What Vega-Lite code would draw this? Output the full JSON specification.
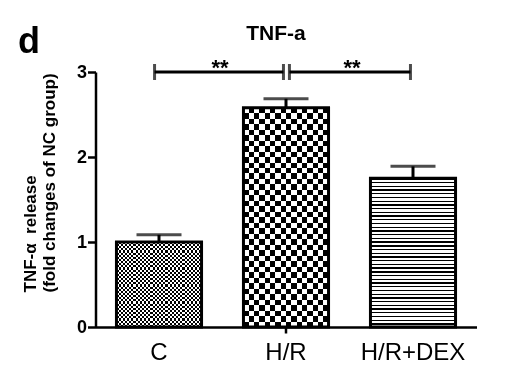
{
"$schema":"https://vega.github.io/schema/vega-lite/v6.json",
"padding":{"left":18,"top":23,"right":5,"bottom":5},
"bounds":"flush",
"spacing":76.5,
"config":{"font":"Liberation Sans","view":{"stroke":null},"axis":{"domainColor":"black","tickColor":"black","labelColor":"black","titleColor":"black","grid":false},"title":{"color":"black"}},
"hconcat":[
{"width":1,"height":1,"title":{"text":"d","fontSize":36,"fontWeight":"bold","anchor":"start","frame":"group","offset":-17,"baseline":"alphabetic"},"data":{"values":[]},"mark":{"type":"point","opacity":0}},
{"width":381,"height":255,
"title":{"text":"TNF-a","fontSize":21,"fontWeight":"bold","anchor":"middle","frame":"group","dx":-10,"offset":-4,"baseline":"alphabetic"},
"layer":[
{"data":{"values":[{"group":"C","mean":1.0,"upper":1.085},{"group":"H/R","mean":2.58,"upper":2.685},{"group":"H/R+DEX","mean":1.75,"upper":1.89}]},
"encoding":{
"x":{"field":"group","type":"nominal","scale":{"domain":["C","H/R","H/R+DEX"],"paddingInner":0.33,"paddingOuter":0.165},"axis":{"title":null,"labelAngle":0,"labelFontSize":24,"labelFontWeight":"normal","domainWidth":2.5,"tickSize":6,"tickWidth":2.5,"labelPadding":7,"tickColor":{"condition":{"test":"datum.value==='H/R'","value":"black"},"value":"transparent"}}},
"y":{"field":"mean","type":"quantitative","scale":{"domain":[0,3],"nice":false},"axis":{"title":["TNF-α\u00a0 release","(fold changes of NC group)"],"titleFontSize":17,"titleFontWeight":"bold","titleLineHeight":19,"titleAlign":"left","titleBaseline":"alphabetic","titleAngle":-90,"titleX":-60,"titleY":220,"values":[0,1,2,3],"format":"d","labelFontSize":18,"labelFontWeight":"bold","labelPadding":1,"tickSize":8,"tickWidth":2.5,"domainWidth":2.5}}},
"layer":[
{"transform":[{"filter":"datum.group==='C'"}],"mark":{"type":"bar","fill":{"gradient":"linear","x1":0,"y1":0,"x2":0,"y2":1,"stops":[{"offset":0,"color":"#000"},{"offset":0.025,"color":"#000"},{"offset":0.025,"color":"#fff"},{"offset":0.05,"color":"#fff"},{"offset":0.05,"color":"#000"},{"offset":0.075,"color":"#000"},{"offset":0.075,"color":"#fff"},{"offset":0.1,"color":"#fff"},{"offset":0.1,"color":"#000"},{"offset":0.125,"color":"#000"},{"offset":0.125,"color":"#fff"},{"offset":0.15,"color":"#fff"},{"offset":0.15,"color":"#000"},{"offset":0.175,"color":"#000"},{"offset":0.175,"color":"#fff"},{"offset":0.2,"color":"#fff"},{"offset":0.2,"color":"#000"},{"offset":0.225,"color":"#000"},{"offset":0.225,"color":"#fff"},{"offset":0.25,"color":"#fff"},{"offset":0.25,"color":"#000"},{"offset":0.275,"color":"#000"},{"offset":0.275,"color":"#fff"},{"offset":0.3,"color":"#fff"},{"offset":0.3,"color":"#000"},{"offset":0.325,"color":"#000"},{"offset":0.325,"color":"#fff"},{"offset":0.35,"color":"#fff"},{"offset":0.35,"color":"#000"},{"offset":0.375,"color":"#000"},{"offset":0.375,"color":"#fff"},{"offset":0.4,"color":"#fff"},{"offset":0.4,"color":"#000"},{"offset":0.425,"color":"#000"},{"offset":0.425,"color":"#fff"},{"offset":0.45,"color":"#fff"},{"offset":0.45,"color":"#000"},{"offset":0.475,"color":"#000"},{"offset":0.475,"color":"#fff"},{"offset":0.5,"color":"#fff"},{"offset":0.5,"color":"#000"},{"offset":0.525,"color":"#000"},{"offset":0.525,"color":"#fff"},{"offset":0.55,"color":"#fff"},{"offset":0.55,"color":"#000"},{"offset":0.575,"color":"#000"},{"offset":0.575,"color":"#fff"},{"offset":0.6,"color":"#fff"},{"offset":0.6,"color":"#000"},{"offset":0.625,"color":"#000"},{"offset":0.625,"color":"#fff"},{"offset":0.65,"color":"#fff"},{"offset":0.65,"color":"#000"},{"offset":0.675,"color":"#000"},{"offset":0.675,"color":"#fff"},{"offset":0.7,"color":"#fff"},{"offset":0.7,"color":"#000"},{"offset":0.725,"color":"#000"},{"offset":0.725,"color":"#fff"},{"offset":0.75,"color":"#fff"},{"offset":0.75,"color":"#000"},{"offset":0.775,"color":"#000"},{"offset":0.775,"color":"#fff"},{"offset":0.8,"color":"#fff"},{"offset":0.8,"color":"#000"},{"offset":0.825,"color":"#000"},{"offset":0.825,"color":"#fff"},{"offset":0.85,"color":"#fff"},{"offset":0.85,"color":"#000"},{"offset":0.875,"color":"#000"},{"offset":0.875,"color":"#fff"},{"offset":0.9,"color":"#fff"},{"offset":0.9,"color":"#000"},{"offset":0.925,"color":"#000"},{"offset":0.925,"color":"#fff"},{"offset":0.95,"color":"#fff"},{"offset":0.95,"color":"#000"},{"offset":0.975,"color":"#000"},{"offset":0.975,"color":"#fff"},{"offset":1,"color":"#fff"}]}}},
{"transform":[{"filter":"datum.group==='C'"}],"mark":{"type":"bar","blend":"difference","fill":{"gradient":"linear","x1":0,"y1":0,"x2":1,"y2":0,"stops":[{"offset":0,"color":"#fff"},{"offset":0.025,"color":"#fff"},{"offset":0.025,"color":"rgba(255,255,255,0)"},{"offset":0.05,"color":"rgba(255,255,255,0)"},{"offset":0.05,"color":"#fff"},{"offset":0.075,"color":"#fff"},{"offset":0.075,"color":"rgba(255,255,255,0)"},{"offset":0.1,"color":"rgba(255,255,255,0)"},{"offset":0.1,"color":"#fff"},{"offset":0.125,"color":"#fff"},{"offset":0.125,"color":"rgba(255,255,255,0)"},{"offset":0.15,"color":"rgba(255,255,255,0)"},{"offset":0.15,"color":"#fff"},{"offset":0.175,"color":"#fff"},{"offset":0.175,"color":"rgba(255,255,255,0)"},{"offset":0.2,"color":"rgba(255,255,255,0)"},{"offset":0.2,"color":"#fff"},{"offset":0.225,"color":"#fff"},{"offset":0.225,"color":"rgba(255,255,255,0)"},{"offset":0.25,"color":"rgba(255,255,255,0)"},{"offset":0.25,"color":"#fff"},{"offset":0.275,"color":"#fff"},{"offset":0.275,"color":"rgba(255,255,255,0)"},{"offset":0.3,"color":"rgba(255,255,255,0)"},{"offset":0.3,"color":"#fff"},{"offset":0.325,"color":"#fff"},{"offset":0.325,"color":"rgba(255,255,255,0)"},{"offset":0.35,"color":"rgba(255,255,255,0)"},{"offset":0.35,"color":"#fff"},{"offset":0.375,"color":"#fff"},{"offset":0.375,"color":"rgba(255,255,255,0)"},{"offset":0.4,"color":"rgba(255,255,255,0)"},{"offset":0.4,"color":"#fff"},{"offset":0.425,"color":"#fff"},{"offset":0.425,"color":"rgba(255,255,255,0)"},{"offset":0.45,"color":"rgba(255,255,255,0)"},{"offset":0.45,"color":"#fff"},{"offset":0.475,"color":"#fff"},{"offset":0.475,"color":"rgba(255,255,255,0)"},{"offset":0.5,"color":"rgba(255,255,255,0)"},{"offset":0.5,"color":"#fff"},{"offset":0.525,"color":"#fff"},{"offset":0.525,"color":"rgba(255,255,255,0)"},{"offset":0.55,"color":"rgba(255,255,255,0)"},{"offset":0.55,"color":"#fff"},{"offset":0.575,"color":"#fff"},{"offset":0.575,"color":"rgba(255,255,255,0)"},{"offset":0.6,"color":"rgba(255,255,255,0)"},{"offset":0.6,"color":"#fff"},{"offset":0.625,"color":"#fff"},{"offset":0.625,"color":"rgba(255,255,255,0)"},{"offset":0.65,"color":"rgba(255,255,255,0)"},{"offset":0.65,"color":"#fff"},{"offset":0.675,"color":"#fff"},{"offset":0.675,"color":"rgba(255,255,255,0)"},{"offset":0.7,"color":"rgba(255,255,255,0)"},{"offset":0.7,"color":"#fff"},{"offset":0.725,"color":"#fff"},{"offset":0.725,"color":"rgba(255,255,255,0)"},{"offset":0.75,"color":"rgba(255,255,255,0)"},{"offset":0.75,"color":"#fff"},{"offset":0.775,"color":"#fff"},{"offset":0.775,"color":"rgba(255,255,255,0)"},{"offset":0.8,"color":"rgba(255,255,255,0)"},{"offset":0.8,"color":"#fff"},{"offset":0.825,"color":"#fff"},{"offset":0.825,"color":"rgba(255,255,255,0)"},{"offset":0.85,"color":"rgba(255,255,255,0)"},{"offset":0.85,"color":"#fff"},{"offset":0.875,"color":"#fff"},{"offset":0.875,"color":"rgba(255,255,255,0)"},{"offset":0.9,"color":"rgba(255,255,255,0)"},{"offset":0.9,"color":"#fff"},{"offset":0.925,"color":"#fff"},{"offset":0.925,"color":"rgba(255,255,255,0)"},{"offset":0.95,"color":"rgba(255,255,255,0)"},{"offset":0.95,"color":"#fff"},{"offset":0.975,"color":"#fff"},{"offset":0.975,"color":"rgba(255,255,255,0)"},{"offset":1,"color":"rgba(255,255,255,0)"}]}}},
{"transform":[{"filter":"datum.group==='H/R'"}],"mark":{"type":"bar","fill":{"gradient":"linear","x1":0,"y1":0,"x2":0,"y2":1,"stops":[{"offset":0,"color":"#000"},{"offset":0.025,"color":"#000"},{"offset":0.025,"color":"#fff"},{"offset":0.05,"color":"#fff"},{"offset":0.05,"color":"#000"},{"offset":0.075,"color":"#000"},{"offset":0.075,"color":"#fff"},{"offset":0.1,"color":"#fff"},{"offset":0.1,"color":"#000"},{"offset":0.125,"color":"#000"},{"offset":0.125,"color":"#fff"},{"offset":0.15,"color":"#fff"},{"offset":0.15,"color":"#000"},{"offset":0.175,"color":"#000"},{"offset":0.175,"color":"#fff"},{"offset":0.2,"color":"#fff"},{"offset":0.2,"color":"#000"},{"offset":0.225,"color":"#000"},{"offset":0.225,"color":"#fff"},{"offset":0.25,"color":"#fff"},{"offset":0.25,"color":"#000"},{"offset":0.275,"color":"#000"},{"offset":0.275,"color":"#fff"},{"offset":0.3,"color":"#fff"},{"offset":0.3,"color":"#000"},{"offset":0.325,"color":"#000"},{"offset":0.325,"color":"#fff"},{"offset":0.35,"color":"#fff"},{"offset":0.35,"color":"#000"},{"offset":0.375,"color":"#000"},{"offset":0.375,"color":"#fff"},{"offset":0.4,"color":"#fff"},{"offset":0.4,"color":"#000"},{"offset":0.425,"color":"#000"},{"offset":0.425,"color":"#fff"},{"offset":0.45,"color":"#fff"},{"offset":0.45,"color":"#000"},{"offset":0.475,"color":"#000"},{"offset":0.475,"color":"#fff"},{"offset":0.5,"color":"#fff"},{"offset":0.5,"color":"#000"},{"offset":0.525,"color":"#000"},{"offset":0.525,"color":"#fff"},{"offset":0.55,"color":"#fff"},{"offset":0.55,"color":"#000"},{"offset":0.575,"color":"#000"},{"offset":0.575,"color":"#fff"},{"offset":0.6,"color":"#fff"},{"offset":0.6,"color":"#000"},{"offset":0.625,"color":"#000"},{"offset":0.625,"color":"#fff"},{"offset":0.65,"color":"#fff"},{"offset":0.65,"color":"#000"},{"offset":0.675,"color":"#000"},{"offset":0.675,"color":"#fff"},{"offset":0.7,"color":"#fff"},{"offset":0.7,"color":"#000"},{"offset":0.725,"color":"#000"},{"offset":0.725,"color":"#fff"},{"offset":0.75,"color":"#fff"},{"offset":0.75,"color":"#000"},{"offset":0.775,"color":"#000"},{"offset":0.775,"color":"#fff"},{"offset":0.8,"color":"#fff"},{"offset":0.8,"color":"#000"},{"offset":0.825,"color":"#000"},{"offset":0.825,"color":"#fff"},{"offset":0.85,"color":"#fff"},{"offset":0.85,"color":"#000"},{"offset":0.875,"color":"#000"},{"offset":0.875,"color":"#fff"},{"offset":0.9,"color":"#fff"},{"offset":0.9,"color":"#000"},{"offset":0.925,"color":"#000"},{"offset":0.925,"color":"#fff"},{"offset":0.95,"color":"#fff"},{"offset":0.95,"color":"#000"},{"offset":0.975,"color":"#000"},{"offset":0.975,"color":"#fff"},{"offset":1,"color":"#fff"}]}}},
{"transform":[{"filter":"datum.group==='H/R'"}],"mark":{"type":"bar","blend":"difference","fill":{"gradient":"linear","x1":0,"y1":0,"x2":1,"y2":0,"stops":[{"offset":0,"color":"#fff"},{"offset":0.0625,"color":"#fff"},{"offset":0.0625,"color":"rgba(255,255,255,0)"},{"offset":0.125,"color":"rgba(255,255,255,0)"},{"offset":0.125,"color":"#fff"},{"offset":0.1875,"color":"#fff"},{"offset":0.1875,"color":"rgba(255,255,255,0)"},{"offset":0.25,"color":"rgba(255,255,255,0)"},{"offset":0.25,"color":"#fff"},{"offset":0.3125,"color":"#fff"},{"offset":0.3125,"color":"rgba(255,255,255,0)"},{"offset":0.375,"color":"rgba(255,255,255,0)"},{"offset":0.375,"color":"#fff"},{"offset":0.4375,"color":"#fff"},{"offset":0.4375,"color":"rgba(255,255,255,0)"},{"offset":0.5,"color":"rgba(255,255,255,0)"},{"offset":0.5,"color":"#fff"},{"offset":0.5625,"color":"#fff"},{"offset":0.5625,"color":"rgba(255,255,255,0)"},{"offset":0.625,"color":"rgba(255,255,255,0)"},{"offset":0.625,"color":"#fff"},{"offset":0.6875,"color":"#fff"},{"offset":0.6875,"color":"rgba(255,255,255,0)"},{"offset":0.75,"color":"rgba(255,255,255,0)"},{"offset":0.75,"color":"#fff"},{"offset":0.8125,"color":"#fff"},{"offset":0.8125,"color":"rgba(255,255,255,0)"},{"offset":0.875,"color":"rgba(255,255,255,0)"},{"offset":0.875,"color":"#fff"},{"offset":0.9375,"color":"#fff"},{"offset":0.9375,"color":"rgba(255,255,255,0)"},{"offset":1,"color":"rgba(255,255,255,0)"}]}}},
{"transform":[{"filter":"datum.group==='H/R+DEX'"}],"mark":{"type":"bar","fill":{"gradient":"linear","x1":0,"y1":0,"x2":0,"y2":1,"stops":[{"offset":0,"color":"#000"},{"offset":0.009,"color":"#000"},{"offset":0.009,"color":"#fff"},{"offset":0.025,"color":"#fff"},{"offset":0.025,"color":"#000"},{"offset":0.034,"color":"#000"},{"offset":0.034,"color":"#fff"},{"offset":0.05,"color":"#fff"},{"offset":0.05,"color":"#000"},{"offset":0.059,"color":"#000"},{"offset":0.059,"color":"#fff"},{"offset":0.075,"color":"#fff"},{"offset":0.075,"color":"#000"},{"offset":0.084,"color":"#000"},{"offset":0.084,"color":"#fff"},{"offset":0.1,"color":"#fff"},{"offset":0.1,"color":"#000"},{"offset":0.109,"color":"#000"},{"offset":0.109,"color":"#fff"},{"offset":0.125,"color":"#fff"},{"offset":0.125,"color":"#000"},{"offset":0.134,"color":"#000"},{"offset":0.134,"color":"#fff"},{"offset":0.15,"color":"#fff"},{"offset":0.15,"color":"#000"},{"offset":0.159,"color":"#000"},{"offset":0.159,"color":"#fff"},{"offset":0.175,"color":"#fff"},{"offset":0.175,"color":"#000"},{"offset":0.184,"color":"#000"},{"offset":0.184,"color":"#fff"},{"offset":0.2,"color":"#fff"},{"offset":0.2,"color":"#000"},{"offset":0.209,"color":"#000"},{"offset":0.209,"color":"#fff"},{"offset":0.225,"color":"#fff"},{"offset":0.225,"color":"#000"},{"offset":0.234,"color":"#000"},{"offset":0.234,"color":"#fff"},{"offset":0.25,"color":"#fff"},{"offset":0.25,"color":"#000"},{"offset":0.259,"color":"#000"},{"offset":0.259,"color":"#fff"},{"offset":0.275,"color":"#fff"},{"offset":0.275,"color":"#000"},{"offset":0.284,"color":"#000"},{"offset":0.284,"color":"#fff"},{"offset":0.3,"color":"#fff"},{"offset":0.3,"color":"#000"},{"offset":0.309,"color":"#000"},{"offset":0.309,"color":"#fff"},{"offset":0.325,"color":"#fff"},{"offset":0.325,"color":"#000"},{"offset":0.334,"color":"#000"},{"offset":0.334,"color":"#fff"},{"offset":0.35,"color":"#fff"},{"offset":0.35,"color":"#000"},{"offset":0.359,"color":"#000"},{"offset":0.359,"color":"#fff"},{"offset":0.375,"color":"#fff"},{"offset":0.375,"color":"#000"},{"offset":0.384,"color":"#000"},{"offset":0.384,"color":"#fff"},{"offset":0.4,"color":"#fff"},{"offset":0.4,"color":"#000"},{"offset":0.409,"color":"#000"},{"offset":0.409,"color":"#fff"},{"offset":0.425,"color":"#fff"},{"offset":0.425,"color":"#000"},{"offset":0.434,"color":"#000"},{"offset":0.434,"color":"#fff"},{"offset":0.45,"color":"#fff"},{"offset":0.45,"color":"#000"},{"offset":0.459,"color":"#000"},{"offset":0.459,"color":"#fff"},{"offset":0.475,"color":"#fff"},{"offset":0.475,"color":"#000"},{"offset":0.484,"color":"#000"},{"offset":0.484,"color":"#fff"},{"offset":0.5,"color":"#fff"},{"offset":0.5,"color":"#000"},{"offset":0.509,"color":"#000"},{"offset":0.509,"color":"#fff"},{"offset":0.525,"color":"#fff"},{"offset":0.525,"color":"#000"},{"offset":0.534,"color":"#000"},{"offset":0.534,"color":"#fff"},{"offset":0.55,"color":"#fff"},{"offset":0.55,"color":"#000"},{"offset":0.559,"color":"#000"},{"offset":0.559,"color":"#fff"},{"offset":0.575,"color":"#fff"},{"offset":0.575,"color":"#000"},{"offset":0.584,"color":"#000"},{"offset":0.584,"color":"#fff"},{"offset":0.6,"color":"#fff"},{"offset":0.6,"color":"#000"},{"offset":0.609,"color":"#000"},{"offset":0.609,"color":"#fff"},{"offset":0.625,"color":"#fff"},{"offset":0.625,"color":"#000"},{"offset":0.634,"color":"#000"},{"offset":0.634,"color":"#fff"},{"offset":0.65,"color":"#fff"},{"offset":0.65,"color":"#000"},{"offset":0.659,"color":"#000"},{"offset":0.659,"color":"#fff"},{"offset":0.675,"color":"#fff"},{"offset":0.675,"color":"#000"},{"offset":0.684,"color":"#000"},{"offset":0.684,"color":"#fff"},{"offset":0.7,"color":"#fff"},{"offset":0.7,"color":"#000"},{"offset":0.709,"color":"#000"},{"offset":0.709,"color":"#fff"},{"offset":0.725,"color":"#fff"},{"offset":0.725,"color":"#000"},{"offset":0.734,"color":"#000"},{"offset":0.734,"color":"#fff"},{"offset":0.75,"color":"#fff"},{"offset":0.75,"color":"#000"},{"offset":0.759,"color":"#000"},{"offset":0.759,"color":"#fff"},{"offset":0.775,"color":"#fff"},{"offset":0.775,"color":"#000"},{"offset":0.784,"color":"#000"},{"offset":0.784,"color":"#fff"},{"offset":0.8,"color":"#fff"},{"offset":0.8,"color":"#000"},{"offset":0.809,"color":"#000"},{"offset":0.809,"color":"#fff"},{"offset":0.825,"color":"#fff"},{"offset":0.825,"color":"#000"},{"offset":0.834,"color":"#000"},{"offset":0.834,"color":"#fff"},{"offset":0.85,"color":"#fff"},{"offset":0.85,"color":"#000"},{"offset":0.859,"color":"#000"},{"offset":0.859,"color":"#fff"},{"offset":0.875,"color":"#fff"},{"offset":0.875,"color":"#000"},{"offset":0.884,"color":"#000"},{"offset":0.884,"color":"#fff"},{"offset":0.9,"color":"#fff"},{"offset":0.9,"color":"#000"},{"offset":0.909,"color":"#000"},{"offset":0.909,"color":"#fff"},{"offset":0.925,"color":"#fff"},{"offset":0.925,"color":"#000"},{"offset":0.934,"color":"#000"},{"offset":0.934,"color":"#fff"},{"offset":0.95,"color":"#fff"},{"offset":0.95,"color":"#000"},{"offset":0.959,"color":"#000"},{"offset":0.959,"color":"#fff"},{"offset":0.975,"color":"#fff"},{"offset":0.975,"color":"#000"},{"offset":0.984,"color":"#000"},{"offset":0.984,"color":"#fff"},{"offset":1,"color":"#fff"}]}}},
{"mark":{"type":"bar","fillOpacity":0,"stroke":"black","strokeWidth":3}},
{"mark":{"type":"rule","strokeWidth":3,"color":"black"},"encoding":{"y2":{"field":"upper"}}},
{"mark":{"type":"tick","size":45,"thickness":3,"color":"black"},"encoding":{"y":{"field":"upper","type":"quantitative"}}}
]},
{"data":{"values":[{"x1":-0.035,"x2":0.98,"y":3,"ty":2.96,"xm":0.48,"label":"**"},{"x1":1.027,"x2":1.98,"y":3,"ty":2.96,"xm":1.52,"label":"**"}]},
"layer":[
{"mark":{"type":"rule","strokeWidth":3,"color":"black"},"encoding":{"x":{"field":"x1","type":"quantitative","scale":{"domain":[-0.5,2.5],"nice":false,"zero":false},"axis":null},"x2":{"field":"x2"},"y":{"field":"y","type":"quantitative"}}},
{"mark":{"type":"tick","orient":"vertical","size":16,"thickness":3,"color":"black"},"encoding":{"x":{"field":"x1","type":"quantitative","axis":null},"y":{"field":"y","type":"quantitative"}}},
{"mark":{"type":"tick","orient":"vertical","size":16,"thickness":3,"color":"black"},"encoding":{"x":{"field":"x2","type":"quantitative","axis":null},"y":{"field":"y","type":"quantitative"}}},
{"mark":{"type":"text","fontSize":22,"fontWeight":"bold","baseline":"alphabetic","color":"black"},"encoding":{"x":{"field":"xm","type":"quantitative","axis":null},"y":{"field":"ty","type":"quantitative"},"text":{"field":"label"}}}
]}
],
"resolve":{"scale":{"x":"independent"}}
}
]
}
